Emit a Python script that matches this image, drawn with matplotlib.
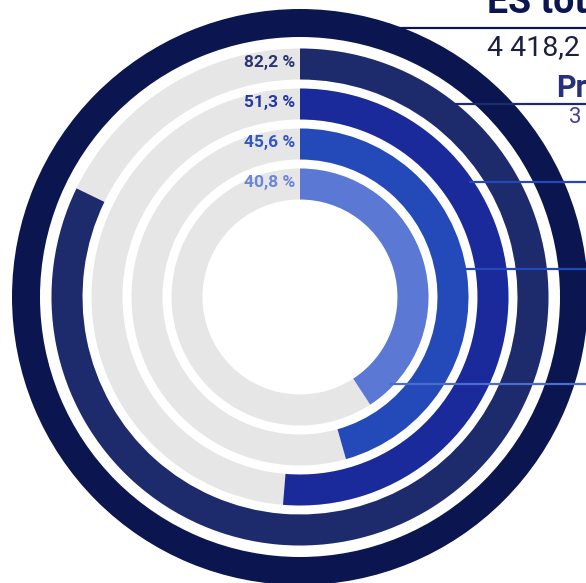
import matplotlib
matplotlib.use("Agg")
import matplotlib.pyplot as plt
import numpy as np

# ---------------- data ----------------
total_title = "ES total"
total_value = "4 418,2"
ring_names = ["Priority", "", "", ""]
ring_values_text = ["3", "", "", ""]
shares = [82.2, 51.3, 45.6, 40.8]          # percent of total
total_share = 100.0

# ---------------- style ----------------
outer_color = "#0b1650"
ring_colors = ["#1d2a6c", "#1a2a9a", "#2449b8", "#5a78d4"]
label_colors = ["#2a3672", "#2538a4", "#3356c4", "#6a86da"]
line_colors = ["#0b1650", "#1d2a6c", "#2447bd", "#2449b8", "#4d6cd2"]
track_color = "#e6e6e6"

W, H = 586, 583
cx, cy = 300, 297          # centre in pixels (from top-left)
R = 292

outer_in, outer_w = 260, 28
ring_centres = [233, 193, 153, 113]
ring_w = 31

plt.rcParams["font.family"] = ["Roboto", "DejaVu Sans"]

fig = plt.figure(figsize=(W / 100, H / 100), dpi=100)
fig.patch.set_facecolor("white")

ax = fig.add_axes([(cx - R) / W, (H - cy - R) / H, 2 * R / W, 2 * R / H],
                  projection="polar")
ax.set_theta_zero_location("N")
ax.set_theta_direction(-1)
ax.set_ylim(0, R)
ax.set_axis_off()

# outer full ring (total)
ax.bar(0, outer_w, width=2 * np.pi * total_share / 100, bottom=outer_in,
       align="edge", color=outer_color, linewidth=0)

for rc, v, col in zip(ring_centres, shares, ring_colors):
    ax.bar(0, ring_w, width=2 * np.pi, bottom=rc - ring_w / 2,
           align="edge", color=track_color, linewidth=0)
    ax.bar(0, ring_w, width=2 * np.pi * v / 100, bottom=rc - ring_w / 2,
           align="edge", color=col, linewidth=0)

# overlay in pixel coordinates
ov = fig.add_axes([0, 0, 1, 1])
ov.set_xlim(0, W)
ov.set_ylim(H, 0)
ov.set_axis_off()
ov.patch.set_alpha(0)

for rc, v, col in zip(ring_centres, shares, label_colors):
    ov.text(295, cy - rc - 1, f"{v:.1f}".replace(".", ",") + " %", ha="right",
            va="center", fontsize=12.5, fontweight="bold", color=col)

# leader lines
leader_y = [28, 104, 182, 269, 384]
leader_r = [outer_in + outer_w - 5] + [rc + ring_w / 2 - 4 for rc in ring_centres]
for y, r, col in zip(leader_y, leader_r, line_colors):
    dy = cy - y
    x0 = cx + np.sqrt(max(r * r - dy * dy, 0))
    ov.plot([x0, W + 10], [y, y], color=col, lw=1.6, solid_capstyle="butt")

# right-hand captions (mostly cut off by the frame)
ov.text(487, 13, total_title, fontsize=27, fontweight="bold", color=outer_color,
        va="baseline", ha="left")
ov.text(487, 55, total_value, fontsize=20.5, color="#1c2040", va="baseline", ha="left")
ov.text(556, 97, ring_names[0], fontsize=22, fontweight="bold", color="#26307e",
        va="baseline", ha="left")
ov.text(569, 123, ring_values_text[0], fontsize=16, color="#4b3ca0",
        va="baseline", ha="left")

fig.savefig("out.png", dpi=100, facecolor="white")
